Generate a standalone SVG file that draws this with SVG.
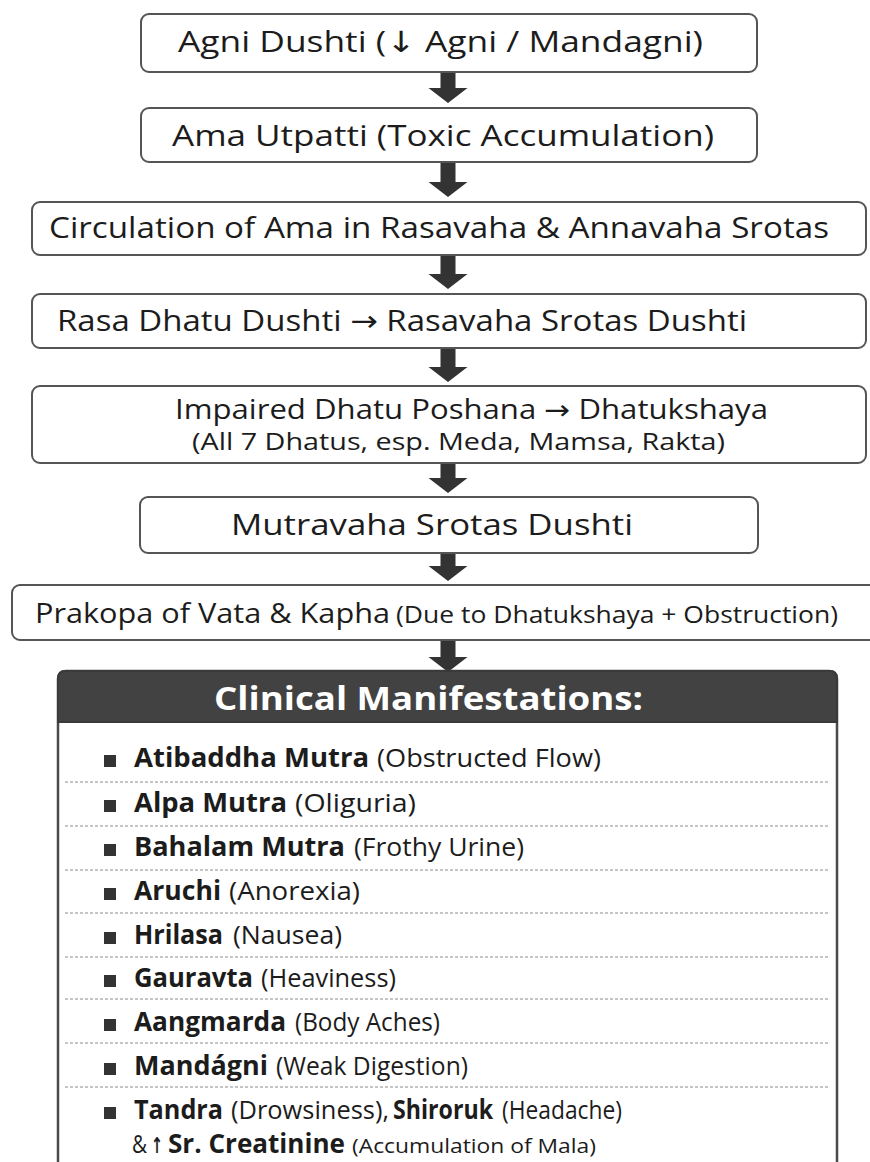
<svg xmlns="http://www.w3.org/2000/svg" width="870" height="1162" viewBox="0 0 870 1162">
<style>
.box{fill:#fff;stroke:#555;stroke-width:2}
.t{font-family:"Open Sans","Noto Sans","DejaVu Sans",sans-serif;fill:#1c1c1c}
.bt{font-size:29px;font-weight:500}
.b{font-weight:bold}
.it{font-size:25px}
.ib{font-size:26px;font-weight:bold}
.sep{stroke:#8a8a8a;stroke-width:1;stroke-dasharray:3 2}
.arr{fill:#333}
</style>
<rect width="870" height="1162" fill="#fff"/>
<g id="connectors">
<polygon class="arr" points="440.5,73 455.5,73 455.5,88 467.5,88 448,103 428.5,88 440.5,88"/>
<polygon class="arr" points="440.5,163 455.5,163 455.5,182 467.5,182 448,197 428.5,182 440.5,182"/>
<polygon class="arr" points="440.5,256 455.5,256 455.5,274 467.5,274 448,289 428.5,274 440.5,274"/>
<polygon class="arr" points="440.5,349 455.5,349 455.5,367 467.5,367 448,382 428.5,367 440.5,367"/>
<polygon class="arr" points="440.5,464 455.5,464 455.5,478 467.5,478 448,493 428.5,478 440.5,478"/>
<polygon class="arr" points="440.5,554 455.5,554 455.5,566 467.5,566 448,581 428.5,566 440.5,566"/>
<polygon class="arr" points="440.5,641 455.5,641 455.5,657 467.5,657 448,672 428.5,657 440.5,657"/>
</g>
<g id="n1">
<rect class="box" x="141" y="14" width="616" height="58" rx="8"/>
<text class="t bt" x="178" y="52" textLength="525" lengthAdjust="spacingAndGlyphs">Agni Dushti (↓ Agni / Mandagni)</text>
</g>
<g id="n2">
<rect class="box" x="141" y="108" width="616" height="54" rx="8"/>
<text class="t bt" x="172" y="146" textLength="542" lengthAdjust="spacingAndGlyphs">Ama Utpatti (Toxic Accumulation)</text>
</g>
<g id="n3">
<rect class="box" x="32" y="202" width="834" height="53" rx="8"/>
<text class="t bt" x="49" y="238" textLength="780" lengthAdjust="spacingAndGlyphs">Circulation of Ama in Rasavaha &amp; Annavaha Srotas</text>
</g>
<g id="n4">
<rect class="box" x="32" y="294" width="834" height="54" rx="8"/>
<text class="t bt" x="57" y="331" textLength="690" lengthAdjust="spacingAndGlyphs">Rasa Dhatu Dushti → Rasavaha Srotas Dushti</text>
</g>
<g id="n5">
<rect class="box" x="32" y="386" width="834" height="77" rx="8"/>
<text class="t" font-size="27" font-weight="500" x="175" y="419" textLength="593" lengthAdjust="spacingAndGlyphs">Impaired Dhatu Poshana → Dhatukshaya</text>
<text class="t" font-size="23" font-weight="500" x="192" y="450" textLength="533" lengthAdjust="spacingAndGlyphs">(All 7 Dhatus, esp. Meda, Mamsa, Rakta)</text>
</g>
<g id="n6">
<rect class="box" x="140" y="497" width="618" height="56" rx="8"/>
<text class="t bt" x="231" y="535" textLength="402" lengthAdjust="spacingAndGlyphs">Mutravaha Srotas Dushti</text>
</g>
<g id="n7">
<rect class="box" x="12" y="585" width="870" height="55" rx="8"/>
<text class="t" font-size="27" font-weight="500" x="35" y="623" textLength="355" lengthAdjust="spacingAndGlyphs">Prakopa of Vata &amp; Kapha</text>
<text class="t" font-size="23" x="396" y="623" textLength="442" lengthAdjust="spacingAndGlyphs">(Due to Dhatukshaya + Obstruction)</text>
</g>
<g id="n8">
<path d="M58,1175 V679 Q58,671 66,671 H829 Q837,671 837,679 V1175 Z" fill="#fff" stroke="#4a4a4a" stroke-width="2.5"/>
<path d="M58,722 V679 Q58,671 66,671 H829 Q837,671 837,679 V722 Z" fill="#424242" stroke="#3a3a3a" stroke-width="2"/>
<text class="t b" x="214" y="710" font-size="32" style="fill:#fff" textLength="429" lengthAdjust="spacingAndGlyphs">Clinical Manifestations:</text>
<g fill="#333">
<rect x="104" y="755" width="12" height="12"/>
<rect x="104" y="800" width="12" height="12"/>
<rect x="104" y="844" width="12" height="12"/>
<rect x="104" y="888" width="12" height="12"/>
<rect x="104" y="932" width="12" height="12"/>
<rect x="104" y="975" width="12" height="12"/>
<rect x="104" y="1019" width="12" height="12"/>
<rect x="104" y="1063" width="12" height="12"/>
<rect x="104" y="1107" width="12" height="12"/>
</g>
<g>
<line class="sep" x1="65" y1="782" x2="828" y2="782"/>
<line class="sep" x1="65" y1="826" x2="828" y2="826"/>
<line class="sep" x1="65" y1="870" x2="828" y2="870"/>
<line class="sep" x1="65" y1="913" x2="828" y2="913"/>
<line class="sep" x1="65" y1="957" x2="828" y2="957"/>
<line class="sep" x1="65" y1="999" x2="828" y2="999"/>
<line class="sep" x1="65" y1="1043" x2="828" y2="1043"/>
<line class="sep" x1="65" y1="1087" x2="828" y2="1087"/>
</g>
<text class="t ib" x="134" y="767" textLength="235" lengthAdjust="spacingAndGlyphs">Atibaddha Mutra</text>
<text class="t it" x="377" y="767" textLength="224" lengthAdjust="spacingAndGlyphs">(Obstructed Flow)</text>
<text class="t ib" x="134" y="812" textLength="153" lengthAdjust="spacingAndGlyphs">Alpa Mutra</text>
<text class="t it" x="295" y="812" textLength="121" lengthAdjust="spacingAndGlyphs">(Oliguria)</text>
<text class="t ib" x="134" y="856" textLength="211" lengthAdjust="spacingAndGlyphs">Bahalam Mutra</text>
<text class="t it" x="354" y="856" textLength="170" lengthAdjust="spacingAndGlyphs">(Frothy Urine)</text>
<text class="t ib" x="134" y="900" textLength="87" lengthAdjust="spacingAndGlyphs">Aruchi</text>
<text class="t it" x="229" y="900" textLength="131" lengthAdjust="spacingAndGlyphs">(Anorexia)</text>
<text class="t ib" x="134" y="944" textLength="89" lengthAdjust="spacingAndGlyphs">Hrilasa</text>
<text class="t it" x="233" y="944" textLength="109" lengthAdjust="spacingAndGlyphs">(Nausea)</text>
<text class="t ib" x="134" y="987" textLength="119" lengthAdjust="spacingAndGlyphs">Gauravta</text>
<text class="t it" x="261" y="987" textLength="135" lengthAdjust="spacingAndGlyphs">(Heaviness)</text>
<text class="t ib" x="134" y="1031" textLength="152" lengthAdjust="spacingAndGlyphs">Aangmarda</text>
<text class="t it" x="295" y="1031" textLength="145" lengthAdjust="spacingAndGlyphs">(Body Aches)</text>
<text class="t ib" x="134" y="1075" textLength="134" lengthAdjust="spacingAndGlyphs">Mandágni</text>
<text class="t it" x="276" y="1075" textLength="192" lengthAdjust="spacingAndGlyphs">(Weak Digestion)</text>
<text class="t ib" x="134" y="1119" textLength="89" lengthAdjust="spacingAndGlyphs">Tandra</text>
<text class="t it" x="231" y="1119" textLength="158" lengthAdjust="spacingAndGlyphs">(Drowsiness),</text>
<text class="t ib" x="393" y="1119" textLength="100" lengthAdjust="spacingAndGlyphs">Shiroruk</text>
<text class="t it" x="502" y="1119" textLength="120" lengthAdjust="spacingAndGlyphs">(Headache)</text>
<text class="t it" x="132" y="1153" textLength="15" lengthAdjust="spacingAndGlyphs">&amp;</text>
<text class="t b" x="151" y="1153" font-size="22" font-family="DejaVu Sans" textLength="12" lengthAdjust="spacingAndGlyphs">↑</text>
<text class="t ib" x="168" y="1153" textLength="177" lengthAdjust="spacingAndGlyphs">Sr. Creatinine</text>
<text class="t" font-size="20" x="352" y="1153" textLength="244" lengthAdjust="spacingAndGlyphs">(Accumulation of Mala)</text>
</g>
</svg>
